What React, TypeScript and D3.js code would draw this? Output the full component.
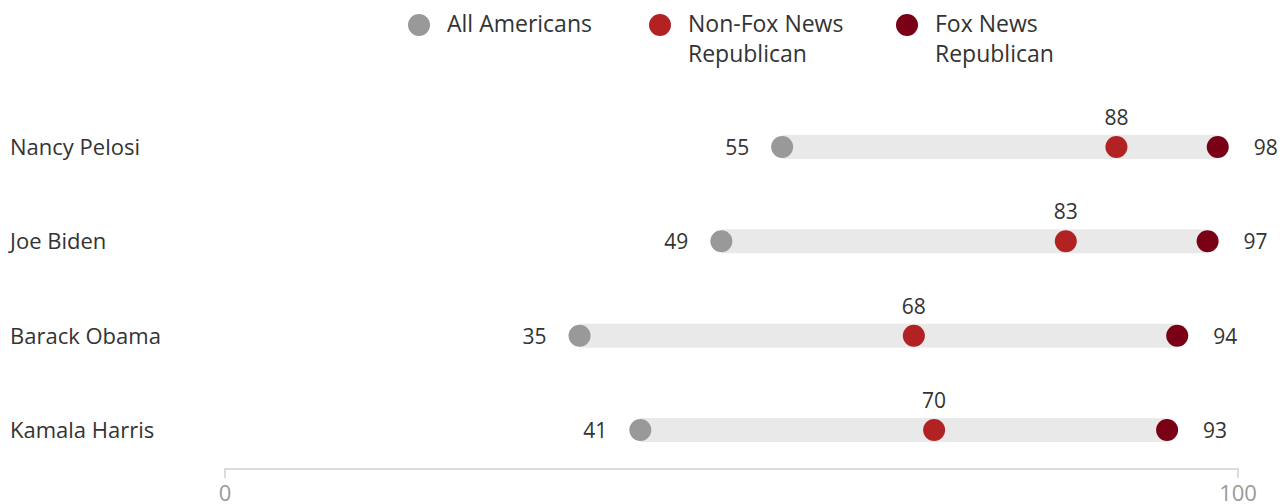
import React from "react";
import * as d3 from "d3";

const categories = ["Nancy Pelosi", "Joe Biden", "Barack Obama", "Kamala Harris"];
const allAmericans = [55, 49, 35, 41];
const nonFoxRep = [88, 83, 68, 70];
const foxRep = [98, 97, 94, 93];
const seriesNames = [["All Americans"], ["Non-Fox News", "Republican"], ["Fox News", "Republican"]];
const seriesColors = ["#999999", "#b22222", "#7a0016"];
const axisTicks = [0, 100];

const W = 1288;
const H = 504;
const FONT = "'Open Sans', sans-serif";

export default function App() {
  const x = d3.scaleLinear().domain([0, 100]).range([225, 1238]);
  const y = d3.scalePoint<string>().domain(categories).range([147, 430]);
  const r = 11;
  const legendX = [419, 660, 907];

  return (
    <svg
      width={W}
      height={H}
      style={{ position: "absolute", left: 0, top: 0, fontFamily: FONT }}
    >
      {/* legend */}
      {seriesNames.map((lines, i) => (
        <g key={i}>
          <circle cx={legendX[i]} cy={25} r={r} fill={seriesColors[i]} />
          <text x={legendX[i] + 28} y={32} fontSize={23} fill="#333">
            {lines.map((l, j) => (
              <tspan key={j} x={legendX[i] + 28} dy={j === 0 ? 0 : 30}>
                {l}
              </tspan>
            ))}
          </text>
        </g>
      ))}

      {categories.map((c, i) => {
        const cy = y(c)!;
        const a = allAmericans[i];
        const n = nonFoxRep[i];
        const f = foxRep[i];
        return (
          <g key={c}>
            <text x={10} y={cy + 8} fontSize={22} fill="#333">
              {c}
            </text>
            <rect
              x={x(a)}
              y={cy - 12}
              width={x(f) - x(a)}
              height={24}
              fill="#e8e9e8"
            />
            <circle cx={x(a)} cy={cy} r={r} fill={seriesColors[0]} />
            <circle cx={x(n)} cy={cy} r={r} fill={seriesColors[1]} />
            <circle cx={x(f)} cy={cy} r={r} fill={seriesColors[2]} />
            <text x={x(a) - 33} y={cy + 8} fontSize={21} fill="#333" textAnchor="end">
              {a}
            </text>
            <text x={x(n)} y={cy - 22} fontSize={21} fill="#333" textAnchor="middle">
              {n}
            </text>
            <text x={x(f) + 36} y={cy + 8} fontSize={21} fill="#333" textAnchor="start">
              {f}
            </text>
          </g>
        );
      })}

      {/* axis */}
      <path
        d={`M${x(0)},478 V469 H${x(100)} V478`}
        fill="none"
        stroke="#dcdcdc"
        strokeWidth={2}
      />
      {axisTicks.map((t) => (
        <text key={t} x={x(t)} y={501} fontSize={22} fill="#999" textAnchor="middle">
          {t}
        </text>
      ))}
    </svg>
  );
}
